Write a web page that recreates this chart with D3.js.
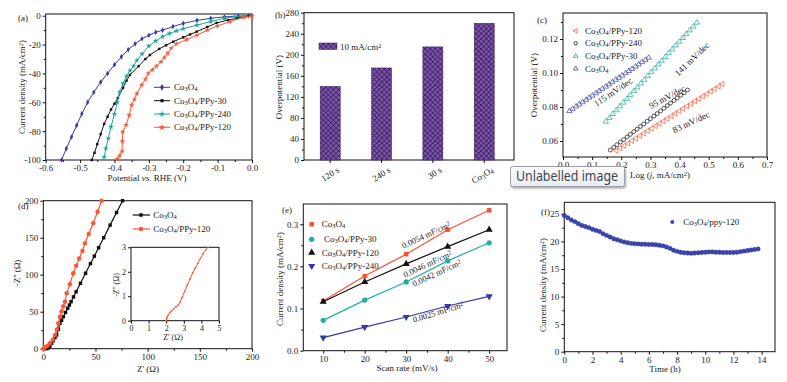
<!DOCTYPE html>
<html>
<head>
<meta charset="utf-8">
<script src="https://cdn.jsdelivr.net/npm/d3@7"></script>
<style>
body { margin: 0; background: #fff; }
svg text { font-family: "Liberation Serif", "Times New Roman", serif; fill: #1a1a1a; }
</style>
</head>
<body>
<svg id="fig" width="787" height="382"></svg>
<script>
// ---------- data ----------
// (a) polarization curves: [potential V, current density mA/cm2]
const aXTicks = [-0.6, -0.5, -0.4, -0.3, -0.2, -0.1, 0.0];
const aYTicks = [0, -20, -40, -60, -80, -100];
const aNames = ['Co_3O_4', 'Co_3O_4/PPy-30', 'Co_3O_4/PPy-240', 'Co_3O_4/PPy-120'];
const aCo3O4 = [[-0.554,-100],[-0.54,-92],[-0.525,-84],[-0.51,-76],[-0.495,-68],[-0.478,-60],[-0.46,-53],[-0.44,-46],
  [-0.42,-40],[-0.40,-34],[-0.38,-28.5],[-0.36,-23.5],[-0.34,-19.5],[-0.32,-16],[-0.30,-13.5],[-0.28,-11.5],
  [-0.26,-10],[-0.23,-7.5],[-0.20,-5.3],[-0.16,-3.2],[-0.12,-1.8],[-0.08,-0.8],[-0.04,-0.3],[-0.01,0]];
const aPPy30 = [[-0.466,-100],[-0.458,-95],[-0.45,-89],[-0.44,-82],[-0.43,-75],[-0.42,-70],[-0.41,-65],[-0.40,-61],
  [-0.39,-57],[-0.375,-50],[-0.365,-45],[-0.355,-41],[-0.33,-35],[-0.31,-30],[-0.297,-27.2],[-0.27,-23],[-0.25,-20.5],
  [-0.229,-18],[-0.20,-15],[-0.18,-13],[-0.161,-11],[-0.13,-7.8],[-0.103,-5],[-0.07,-3],[-0.044,-1.8],[-0.02,-0.5],[0,0]];
const aPPy240 = [[-0.43,-98],[-0.425,-92],[-0.418,-85],[-0.41,-77],[-0.40,-68],[-0.392,-60],[-0.385,-53],[-0.375,-47],
  [-0.365,-42],[-0.355,-38],[-0.345,-35],[-0.335,-31],[-0.32,-26.5],[-0.30,-21],[-0.28,-17.5],[-0.26,-14.5],[-0.24,-12.3],
  [-0.22,-10.5],[-0.20,-9],[-0.16,-6.5],[-0.12,-4],[-0.08,-1.8],[-0.05,-0.7],[-0.02,0]];
const aPPy120 = [[-0.392,-99.3],[-0.385,-97],[-0.378,-94],[-0.377,-87],[-0.376,-80.5],[-0.366,-75.7],[-0.357,-68.8],
  [-0.35,-62],[-0.342,-58],[-0.335,-54],[-0.321,-48],[-0.31,-44],[-0.302,-40],[-0.29,-37.5],[-0.278,-35],[-0.265,-32],
  [-0.255,-29],[-0.245,-26],[-0.235,-22.5],[-0.22,-19.5],[-0.19,-16.5],[-0.16,-13.5],[-0.13,-10],[-0.10,-7],
  [-0.064,-4.1],[-0.025,-1.1],[0,-0.3]];

// (b) overpotential at 10 mA/cm2
const bCats = ['120 s', '240 s', '30 s', 'Co_3O_4'];
const bValues = [140, 175, 215, 260];
const bYTicks = [0, 40, 80, 120, 160, 200, 240, 280];

// (c) Tafel plots: log j and overpotential
const cXTicks = [0.0, 0.1, 0.2, 0.3, 0.4, 0.5, 0.6, 0.7];
const cYTicks = [0.06, 0.08, 0.10, 0.12];
const cNames = ['Co_3O_4/PPy-120', 'Co_3O_4/PPy-240', 'Co_3O_4/PPy-30', 'Co_3O_4'];
const cSlopes = ['83 mV/dec', '95 mV/dec', '141 mV/dec', '115 mV/dec'];
const cBlueX = [0.022,0.033,0.045,0.056,0.067,0.079,0.090,0.101,0.113,0.124,0.135,0.147,0.158,0.169,0.181,0.192,0.203,0.215,0.226,0.237,0.249,0.260,0.271,0.283,0.294];
const cBlueY = [0.0776,0.0789,0.0803,0.0815,0.0828,0.0842,0.0855,0.0867,0.0881,0.0894,0.0907,0.0920,0.0933,0.0946,0.0960,0.0972,0.0985,0.0999,0.1012,0.1024,0.1038,0.1051,0.1064,0.1077,0.1090];
const cTealX = [0.147,0.159,0.171,0.183,0.195,0.207,0.219,0.231,0.243,0.255,0.267,0.279,0.291,0.303,0.315,0.327,0.339,0.351,0.363,0.375,0.387,0.399,0.411,0.423,0.435,0.447,0.459];
const cTealY = [0.0714,0.0736,0.0759,0.0781,0.0804,0.0826,0.0848,0.0871,0.0893,0.0915,0.0938,0.0960,0.0983,0.1005,0.1027,0.1050,0.1072,0.1094,0.1117,0.1139,0.1162,0.1184,0.1206,0.1229,0.1251,0.1273,0.1296];
const cBlackX = [0.162,0.174,0.185,0.197,0.208,0.220,0.231,0.243,0.254,0.266,0.277,0.289,0.300,0.312,0.323,0.335,0.346,0.358,0.369,0.381,0.392,0.404,0.415,0.427];
const cBlackY = [0.0547,0.0563,0.0578,0.0594,0.0608,0.0624,0.0639,0.0655,0.0670,0.0686,0.0700,0.0716,0.0731,0.0747,0.0761,0.0777,0.0792,0.0808,0.0823,0.0839,0.0853,0.0869,0.0884,0.0900];
const cRedX = [0.183,0.196,0.210,0.223,0.237,0.250,0.264,0.277,0.291,0.304,0.318,0.331,0.345,0.358,0.372,0.385,0.399,0.412,0.426,0.439,0.453,0.466,0.480,0.493,0.507,0.520,0.534,0.547];
const cRedY = [0.0543,0.0557,0.0572,0.0586,0.0601,0.0615,0.0630,0.0644,0.0659,0.0673,0.0688,0.0702,0.0717,0.0731,0.0747,0.0761,0.0776,0.0790,0.0805,0.0819,0.0834,0.0848,0.0863,0.0877,0.0892,0.0906,0.0921,0.0935];

// (d) Nyquist plots: Z' and -Z''
const dTicks = [0, 50, 100, 150, 200];
const dNames = ['Co_3O_4', 'Co_3O_4/PPy-120'];
const dCoX = [3.2,4.8,6.4,8,9.6,11.2,12.8,14.4,16,17.5,19.2,21.3,23.4,25,26.6,28.9,31.5,35.6,40.5,45.2,48.9,53,57.9,64,70.2,76];
const dCoY = [0,1,3.5,7.3,11,15,18.5,26,34.3,38.5,43.2,49,54.6,59,63.5,70,77,88.4,102,115,125,136.5,150,167,184,200];
const dPPyX = [0,1.6,4,6.4,9,11.2,13,14.4,16,17.6,19.2,20.8,22.4,25.5,28.7,31.5,34.4,37.5,39.9,43.5,47.8,52,55.8];
const dPPyY = [0,1.9,4,7.3,12,18.5,26,34.3,43,50.5,57.3,63.5,74.8,87,102,112,122,132,142.4,155,169.5,185,200];
const insXTicks = [0, 1, 2, 3, 4, 5];
const insYTicks = [0, 1, 2, 3];
const insX = [2.0,2.02,2.06,2.12,2.2,2.3,2.42,2.55,2.68,2.78,2.9,3.05,3.2,3.35,3.5,3.65,3.8,3.95,4.1,4.25,4.38];
const insY = [0,0.08,0.16,0.24,0.32,0.4,0.48,0.56,0.64,0.75,0.95,1.2,1.45,1.7,1.95,2.15,2.35,2.55,2.75,2.9,3.0];

// (e) double-layer capacitance: scan rate vs current density
const eScan = [10, 20, 30, 40, 50];
const eYTicks = [0.0, 0.1, 0.2, 0.3];
const eNames = ['Co_3O_4', 'Co_3O_4/PPy-30', 'Co_3O_4/PPy-120', 'Co_3O_4/PPy-240'];
const eCo3O4 = [0.118, 0.177, 0.229, 0.287, 0.333];
const ePPy30 = [0.072, 0.120, 0.163, 0.213, 0.256];
const ePPy120 = [0.116, 0.163, 0.206, 0.247, 0.287];
const ePPy240 = [0.031, 0.056, 0.080, 0.106, 0.129];
const eLabels = ['0.0054 mF/cm^2', '0.0046 mF/cm^2', '0.0042 mF/cm^2', '0.0025 mF/cm^2'];

// (f) stability test
const fXTicks = [0, 2, 4, 6, 8, 10, 12, 14];
const fYTicks = [0, 5, 10, 15, 20, 25];
const fTime = [0,0.25,0.5,0.75,1,1.25,1.5,1.75,2,2.25,2.5,2.75,3,3.25,3.5,3.75,4,4.25,4.5,4.75,5,5.25,5.5,5.75,6,6.25,6.5,6.75,
  7,7.25,7.5,7.75,8,8.25,8.5,8.75,9,9.25,9.5,9.75,10,10.25,10.5,10.75,11,11.25,11.5,11.75,12,12.25,12.5,12.75,13,13.25,13.5,13.75];
const fCurrent = [24.7,24.3,23.9,23.6,23.2,22.9,22.7,22.5,22.2,22.0,21.8,21.4,21.1,20.8,20.5,20.3,20.1,19.9,19.75,19.65,
  19.6,19.55,19.5,19.5,19.45,19.45,19.4,19.3,19.2,19.0,18.75,18.4,18.2,18.05,17.95,17.9,17.85,17.9,17.95,18.0,
  18.05,18.1,18.1,18.05,18.05,18.0,18.0,18.0,18.0,18.05,18.15,18.25,18.35,18.45,18.55,18.65];

// ---------- helpers ----------
const svg = d3.select('#fig');
const FONT = '"Liberation Serif", "Times New Roman", serif';
const defs = svg.append('defs');

// very small markup: _x subscript, ^x superscript, *...* italic
function rich(t, s) {
  const re = /([_^])(.)|\*([^*]+)\*|([^_^*]+)/g;
  let m;
  while ((m = re.exec(s))) {
    if (m[1]) {
      t.append('tspan').attr('font-size', '72%')
        .attr('baseline-shift', m[1] === '_' ? '-22%' : '38%').text(m[2]);
    } else if (m[3]) {
      t.append('tspan').attr('font-style', 'italic').text(m[3]);
    } else {
      t.append('tspan').text(m[4]);
    }
  }
  return t;
}

function label(g, x, y, s, o = {}) {
  const t = g.append('text').attr('x', x).attr('y', y).attr('dy', '0.35em')
    .attr('font-size', o.size || 9).attr('text-anchor', o.anchor || 'start');
  if (o.rotate != null) t.attr('transform', `rotate(${o.rotate},${x},${y})`);
  if (o.fill) t.style('fill', o.fill);
  return rich(t, s);
}

function clean(sel) {
  sel.select('.domain').remove();
  sel.attr('font-family', FONT).attr('font-size', 9);
  sel.selectAll('line').attr('stroke', '#111');
  sel.selectAll('text').style('fill', '#1a1a1a');
}

function axes(g, x, y, o) {
  const [xa, xb] = x.range();
  const [yb, ya] = y.range();
  if (o.xMinor) g.append('g').attr('transform', `translate(0,${yb})`)
    .call(d3.axisBottom(x).tickValues(o.xMinor).tickSize(2).tickFormat('')).call(clean);
  if (o.yMinor) g.append('g').attr('transform', `translate(${xa},0)`)
    .call(d3.axisLeft(y).tickValues(o.yMinor).tickSize(2).tickFormat('')).call(clean);
  const xg = g.append('g').attr('transform', `translate(0,${yb})`)
    .call(d3.axisBottom(x).tickValues(o.xTicks).tickSize(3).tickPadding(2).tickFormat(o.xFmt)).call(clean);
  const yg = g.append('g').attr('transform', `translate(${xa},0)`)
    .call(d3.axisLeft(y).tickValues(o.yTicks).tickSize(3).tickPadding(2).tickFormat(o.yFmt)).call(clean);
  g.append('rect').attr('x', xa).attr('y', ya).attr('width', (o.xEnd || xb) - xa).attr('height', yb - ya)
    .attr('fill', 'none').attr('stroke', '#111').attr('stroke-width', 1);
  return { xg, yg };
}

const sym = (type, size) => d3.symbol().type(type).size(size)();
const fx = d => d.toFixed(1);

// ---------- (a) ----------
{
  const g = svg.append('g');
  const x = d3.scaleLinear().domain([-0.6, 0]).range([45.7, 252]);
  const y = d3.scaleLinear().domain([-100, 1.2]).range([160, 14]);
  axes(g, x, y, { xTicks: aXTicks, yTicks: aYTicks, xFmt: fx, yFmt: d => d,
    xMinor: d3.range(-0.55, 0, 0.1), yMinor: d3.range(-90, 0, 20) });
  const series = [
    { d: aCo3O4, c: '#3a3ca6', t: d3.symbolDiamond, s: 9 },
    { d: aPPy30, c: '#111111', t: d3.symbolSquare, s: 6 },
    { d: aPPy240, c: '#17a99a', t: d3.symbolStar, s: 10 },
    { d: aPPy120, c: '#ff5533', t: d3.symbolStar, s: 10 }
  ];
  const line = d3.line().x(d => x(d[0])).y(d => y(d[1]));
  series.forEach(s => {
    g.append('path').attr('d', line(s.d)).attr('fill', 'none').attr('stroke', s.c).attr('stroke-width', 1);
    g.selectAll(null).data(s.d).enter().append('path')
      .attr('d', sym(s.t, s.s)).attr('transform', d => `translate(${x(d[0])},${y(d[1])})`).attr('fill', s.c);
  });
  const rows = [87.3, 100.7, 114, 127.3];
  series.forEach((s, i) => {
    g.append('line').attr('x1', 154).attr('x2', 170).attr('y1', rows[i]).attr('y2', rows[i]).attr('stroke', s.c);
    g.append('path').attr('d', sym(s.t, s.s + 4)).attr('transform', `translate(162,${rows[i]})`).attr('fill', s.c);
    label(g, 174, rows[i], aNames[i], { size: 9 });
  });
  label(g, 18, 18, '(a)');
  label(g, 147, 178, 'Potential *vs.* RHE (V)', { anchor: 'middle' });
  label(g, 22, 87, 'Current density (mA/cm^2)', { anchor: 'middle', rotate: -90 });
}

// ---------- (b) ----------
{
  const g = svg.append('g');
  const pat = defs.append('pattern').attr('id', 'hatch').attr('patternUnits', 'userSpaceOnUse')
    .attr('width', 3.6).attr('height', 3.6).attr('patternTransform', 'rotate(45)');
  pat.append('rect').attr('width', 3.6).attr('height', 3.6).attr('fill', '#7a56ad');
  pat.append('path').attr('d', 'M0,0H3.6M0,0V3.6').attr('stroke', '#34164f').attr('stroke-width', 1.3);

  const x = d3.scaleBand().domain(bCats).range([304, 514]).paddingInner(0.61).paddingOuter(0.35).align(0.45);
  const y = d3.scaleLinear().domain([0, 280]).range([160, 12.7]);
  const { xg } = axes(g, x, y, { xTicks: bCats, yTicks: bYTicks, xFmt: d => d, yFmt: d => d,
    yMinor: d3.range(20, 280, 40) });
  xg.selectAll('.tick text').each(function (d) {
    const t = d3.select(this).text(null).attr('text-anchor', 'end').attr('y', 0).attr('dy', '0.35em')
      .attr('transform', 'translate(8,9) rotate(-32)');
    rich(t, d);
  });
  g.selectAll('rect.bar').data(bValues).enter().append('rect').attr('class', 'bar')
    .attr('x', (d, i) => x(bCats[i])).attr('width', x.bandwidth())
    .attr('y', d => y(d)).attr('height', d => y(0) - y(d))
    .attr('fill', 'url(#hatch)').attr('stroke', '#3a1a58').attr('stroke-width', 0.5);
  g.append('rect').attr('x', 319).attr('y', 43).attr('width', 18).attr('height', 6.5)
    .attr('fill', 'url(#hatch)').attr('stroke', '#3a1a58').attr('stroke-width', 0.5);
  label(g, 340, 46.5, '10 mA/cm^2');
  label(g, 275, 15, '(b)');
  label(g, 279, 87, 'Overpotential (V)', { anchor: 'middle', rotate: -90 });
}

// ---------- (c) ----------
{
  const g = svg.append('g');
  const x = d3.scaleLinear().domain([0, 0.7]).range([563, 767]);
  const y = d3.scaleLinear().domain([0.0506, 0.1353]).range([157, 13]);
  axes(g, x, y, { xTicks: cXTicks, yTicks: cYTicks, xFmt: fx, yFmt: d => d.toFixed(2),
    xMinor: d3.range(0.05, 0.7, 0.1), yMinor: d3.range(0.07, 0.135, 0.02) });
  const series = [
    { xs: cRedX, ys: cRedY, c: '#ff5533', t: d3.symbolTriangle, r: -90 },
    { xs: cBlackX, ys: cBlackY, c: '#111111', t: d3.symbolCircle, r: 0 },
    { xs: cTealX, ys: cTealY, c: '#17a99a', t: d3.symbolTriangle, r: 0 },
    { xs: cBlueX, ys: cBlueY, c: '#3a3ca6', t: d3.symbolTriangle, r: 0 }
  ];
  series.forEach(s => {
    g.selectAll(null).data(s.xs).enter().append('path')
      .attr('d', sym(s.t, 12))
      .attr('transform', (d, i) => `translate(${x(d)},${y(s.ys[i])}) rotate(${s.r})`)
      .attr('fill', 'none').attr('stroke', s.c).attr('stroke-width', 0.7);
  });
  const rows = [30.7, 43.3, 56, 68.7];
  series.forEach((s, i) => {
    g.append('path').attr('d', sym(s.t, 9)).attr('transform', `translate(575.7,${rows[i]}) rotate(${s.r})`)
      .attr('fill', 'none').attr('stroke', s.c).attr('stroke-width', 0.8);
    label(g, 585, rows[i], cNames[i]);
  });
  label(g, 691, 122, cSlopes[0], { anchor: 'middle', rotate: -25 });
  label(g, 667, 97, cSlopes[1], { anchor: 'middle', rotate: -28 });
  label(g, 692, 59, cSlopes[2], { anchor: 'middle', rotate: -44 });
  label(g, 613, 92, cSlopes[3], { anchor: 'middle', rotate: -34 });
  label(g, 537, 20, '(c)');
  label(g, 660, 175, 'Log (*j*, mA/cm^2)', { anchor: 'middle' });
  label(g, 534, 85, 'Overpotential (V)', { anchor: 'middle', rotate: -90 });
}

// ---------- (d) ----------
{
  const g = svg.append('g');
  const x = d3.scaleLinear().domain([0, 200]).range([43.3, 252]);
  const y = d3.scaleLinear().domain([0, 200]).range([348.7, 200.7]);
  axes(g, x, y, { xTicks: dTicks, yTicks: dTicks, xFmt: d => d, yFmt: d => d,
    xMinor: d3.range(25, 200, 50), yMinor: d3.range(25, 200, 50) });
  const series = [
    { xs: dCoX, ys: dCoY, c: '#111111', t: d3.symbolSquare, s: 12 },
    { xs: dPPyX, ys: dPPyY, c: '#ff5533', t: d3.symbolCircle, s: 16 }
  ];
  series.forEach(s => {
    const pts = s.xs.map((v, i) => [x(v), y(s.ys[i])]);
    g.append('path').attr('d', d3.line()(pts)).attr('fill', 'none').attr('stroke', s.c).attr('stroke-width', 1.2);
    g.selectAll(null).data(pts).enter().append('path').attr('d', sym(s.t, s.s))
      .attr('transform', d => `translate(${d[0]},${d[1]})`).attr('fill', s.c);
  });
  const rows = [215, 229];
  series.forEach((s, i) => {
    g.append('line').attr('x1', 132.7).attr('x2', 150).attr('y1', rows[i]).attr('y2', rows[i]).attr('stroke', s.c).attr('stroke-width', 1.2);
    g.append('path').attr('d', sym(s.t, s.s)).attr('transform', `translate(141,${rows[i]})`).attr('fill', s.c);
    label(g, 153.3, rows[i], dNames[i]);
  });
  label(g, 18, 206, '(d)');
  label(g, 148, 369, "Z' (Ω)", { anchor: 'middle' });
  label(g, 17, 273, "-Z'' (Ω)", { anchor: 'middle', rotate: -90 });

  // inset
  const ix = d3.scaleLinear().domain([0, 5]).range([131, 219]);
  const iy = d3.scaleLinear().domain([0, 3]).range([320.7, 247.3]);
  const ig = g.append('g');
  ig.append('rect').attr('x', 131).attr('y', 247.3).attr('width', 88).attr('height', 73.4).attr('fill', '#fff');
  const ax = axes(ig, ix, iy, { xTicks: insXTicks, yTicks: insYTicks, xFmt: d => d, yFmt: d => d });
  ax.xg.selectAll('text').attr('font-size', 8);
  ax.yg.selectAll('text').attr('font-size', 8);
  const ipts = insX.map((v, i) => [ix(v), iy(insY[i])]);
  ig.append('path').attr('d', d3.line()(ipts)).attr('fill', 'none').attr('stroke', '#ff5533').attr('stroke-width', 1);
  ig.selectAll(null).data(ipts).enter().append('circle').attr('cx', d => d[0]).attr('cy', d => d[1])
    .attr('r', 0.9).attr('fill', '#ff5533');
  label(ig, 173, 337, "Z' (Ω)", { anchor: 'middle', size: 8 });
  label(ig, 116, 285, "-Z'' (Ω)", { anchor: 'middle', size: 8, rotate: -90 });
}

// ---------- (e) ----------
{
  const g = svg.append('g');
  const x = d3.scaleLinear().domain([5.2, 54.3]).range([303.3, 507]);
  const y = d3.scaleLinear().domain([0, 0.348]).range([350.7, 204]);
  axes(g, x, y, { xTicks: eScan, yTicks: eYTicks, xFmt: d => d, yFmt: fx,
    xMinor: d3.range(15, 55, 10), yMinor: d3.range(0.05, 0.34, 0.1) });
  const series = [
    { d: eCo3O4, c: '#ff4f30', t: d3.symbolSquare, s: 20, r: 0 },
    { d: ePPy30, c: '#1fb0a2', t: d3.symbolCircle, s: 22, r: 0 },
    { d: ePPy120, c: '#111111', t: d3.symbolTriangle, s: 22, r: 0 },
    { d: ePPy240, c: '#3438a8', t: d3.symbolTriangle, s: 22, r: 180 }
  ];
  series.forEach(s => {
    const pts = s.d.map((v, i) => [x(eScan[i]), y(v)]);
    g.append('path').attr('d', d3.line()(pts)).attr('fill', 'none').attr('stroke', s.c).attr('stroke-width', 1.2);
    g.selectAll(null).data(pts).enter().append('path').attr('d', sym(s.t, s.s))
      .attr('transform', d => `translate(${d[0]},${d[1]}) rotate(${s.r})`).attr('fill', s.c);
  });
  const rows = [224.3, 239.3, 252.7, 266];
  series.forEach((s, i) => {
    g.append('path').attr('d', sym(s.t, s.s)).attr('transform', `translate(311.7,${rows[i]}) rotate(${s.r})`).attr('fill', s.c);
    label(g, i === 1 ? 324 : 321.7, rows[i], eNames[i]);
  });
  label(g, 426, 235, eLabels[0], { anchor: 'middle', size: 8.5, rotate: -25 });
  label(g, 427.5, 264, eLabels[1], { anchor: 'middle', size: 8.5, rotate: -25 });
  label(g, 436.7, 273, eLabels[2], { anchor: 'middle', size: 8.5, rotate: -25 });
  label(g, 438, 312, eLabels[3], { anchor: 'middle', size: 8.5, rotate: -17 });
  label(g, 282, 210, '(e)');
  label(g, 407, 368, 'Scan rate (mV/s)', { anchor: 'middle' });
  label(g, 280, 279, 'Current density (mA/cm^2)', { anchor: 'middle', rotate: -90 });
}

// ---------- (f) ----------
{
  const g = svg.append('g');
  const x = d3.scaleLinear().domain([0, 14.95]).range([564.3, 775]);
  const y = d3.scaleLinear().domain([0, 27.1]).range([351.7, 202.3]);
  axes(g, x, y, { xTicks: fXTicks, yTicks: fYTicks, xFmt: d => d, yFmt: d => d,
    xMinor: d3.range(1, 15, 2), yMinor: d3.range(2.5, 27, 5) });
  g.selectAll(null).data(fTime).enter().append('circle')
    .attr('cx', d => x(d)).attr('cy', (d, i) => y(fCurrent[i])).attr('r', 2.2)
    .attr('fill', '#3d45b2').attr('stroke', '#2a3090').attr('stroke-width', 0.4);
  g.append('circle').attr('cx', 672.3).attr('cy', 222).attr('r', 2).attr('fill', '#3d45b2');
  label(g, 683.3, 222, 'Co_3O_4/ppy-120');
  label(g, 541, 212, '(f)');
  label(g, 665, 369, 'Time (h)', { anchor: 'middle' });
  label(g, 543, 285, 'Current density (mA/cm^2)', { anchor: 'middle', rotate: -90 });
}

// ---------- viewer tooltip overlay ----------
{
  const f = defs.append('filter').attr('id', 'shadow').attr('x', '-10%').attr('y', '-20%').attr('width', '130%').attr('height', '160%');
  f.append('feDropShadow').attr('dx', 1).attr('dy', 1.5).attr('stdDeviation', 1.2).attr('flood-opacity', 0.35);
  const grad = defs.append('linearGradient').attr('id', 'tipbg').attr('x1', 0).attr('y1', 0).attr('x2', 0).attr('y2', 1);
  grad.append('stop').attr('offset', '0%').attr('stop-color', '#fdfdfe');
  grad.append('stop').attr('offset', '100%').attr('stop-color', '#e9ebf2');
  const g = svg.append('g');
  g.append('rect').attr('x', 510.5).attr('y', 166.5).attr('width', 114).attr('height', 20).attr('rx', 2)
    .attr('fill', 'url(#tipbg)').attr('stroke', '#9b9ea6').attr('filter', 'url(#shadow)');
  g.append('text').attr('x', 516).attr('y', 181).attr('font-size', 13.5)
    .attr('textLength', 102).attr('lengthAdjust', 'spacingAndGlyphs')
    .style('font-family', '"Noto Sans", "Open Sans", sans-serif').style('fill', '#404650')
    .text('Unlabelled image');
}
</script>
</body>
</html>
